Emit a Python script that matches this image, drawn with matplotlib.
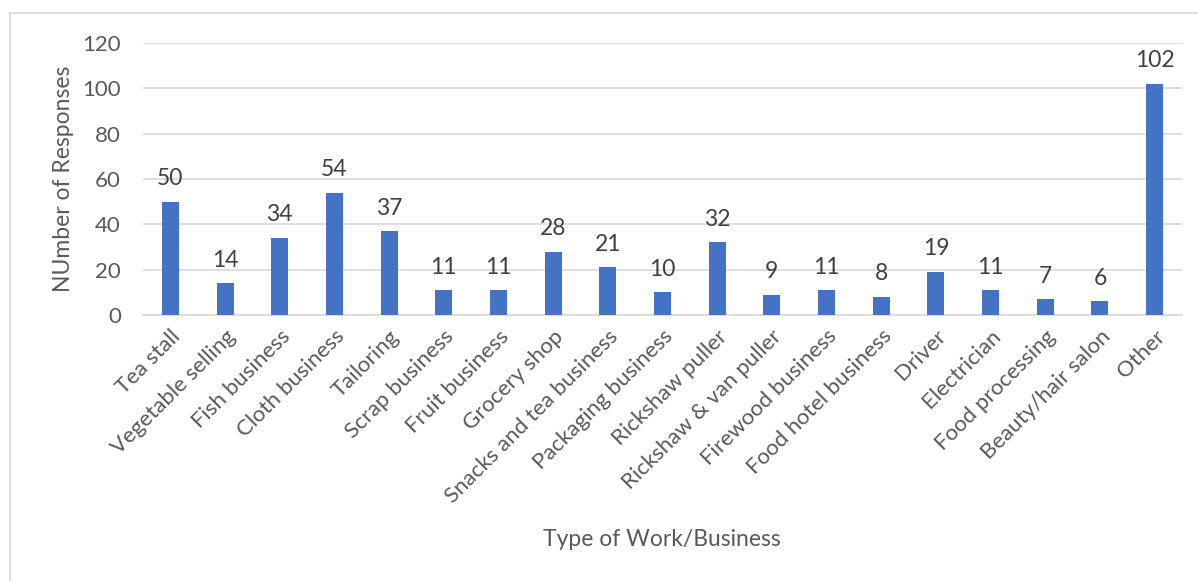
import matplotlib.pyplot as plt
from matplotlib.lines import Line2D

categories = [
    "Tea stall", "Vegetable selling", "Fish business", "Cloth business",
    "Tailoring", "Scrap business", "Fruit business", "Grocery shop",
    "Snacks and tea business", "Packaging business", "Rickshaw puller",
    "Rickshaw & van puller", "Firewood business", "Food hotel business",
    "Driver", "Electrician", "Food processing", "Beauty/hair salon", "Other",
]
responses = [50, 14, 34, 54, 37, 11, 11, 28, 21, 10, 32, 9, 11, 8, 19, 11, 7, 6, 102]
y_ticks = [0, 20, 40, 60, 80, 100, 120]

plt.rcParams['font.family'] = ['Lato', 'DejaVu Sans']

W, H = 1198, 581
fig = plt.figure(figsize=(W / 100, H / 100), dpi=100)
ax = fig.add_axes([143 / W, 1 - 315 / H, (1182 - 143) / W, (315 - 43) / H])

x = list(range(len(categories)))
ax.bar(x, responses, width=0.31, color="#4472C4", zorder=3)
for xi, v in zip(x, responses):
    ax.annotate(str(v), (xi, v), xytext=(0, 9), textcoords="offset points",
                ha="center", va="bottom", fontsize=16.5, color="#404040")

ax.set_xlim(-0.5, len(categories) - 0.5)
ax.set_ylim(0, 120)
ax.set_yticks(y_ticks)
ax.grid(axis="y", color="#D9D9D9", linewidth=1.2, zorder=0)
for side in ["top", "right", "left"]:
    ax.spines[side].set_visible(False)
ax.spines["bottom"].set_color("#D9D9D9")
ax.spines["bottom"].set_linewidth(1.2)
ax.tick_params(axis="both", length=0, labelsize=16, labelcolor="#595959")
ax.tick_params(axis="y", pad=16)
ax.set_xticks(x)
ax.set_xticklabels(categories, rotation=45, ha="right", rotation_mode="anchor")
ax.tick_params(axis="x", pad=8)

ax.set_ylabel("NUmber of Responses", fontsize=16.5, color="#595959", labelpad=6)
fig.text(662 / W, 1 - 540 / H, "Type of Work/Business", ha="center", va="center",
         fontsize=16.5, color="#595959")

# light chart-area frame on the left and top
fig.add_artist(Line2D([10 / W, 10 / W], [0, 1 - 13 / H], transform=fig.transFigure,
                      color="#D9D9D9", linewidth=1.2))
fig.add_artist(Line2D([10 / W, 1], [1 - 13 / H, 1 - 13 / H], transform=fig.transFigure,
                      color="#D9D9D9", linewidth=1.2))

fig.savefig("out.png", dpi=100)
